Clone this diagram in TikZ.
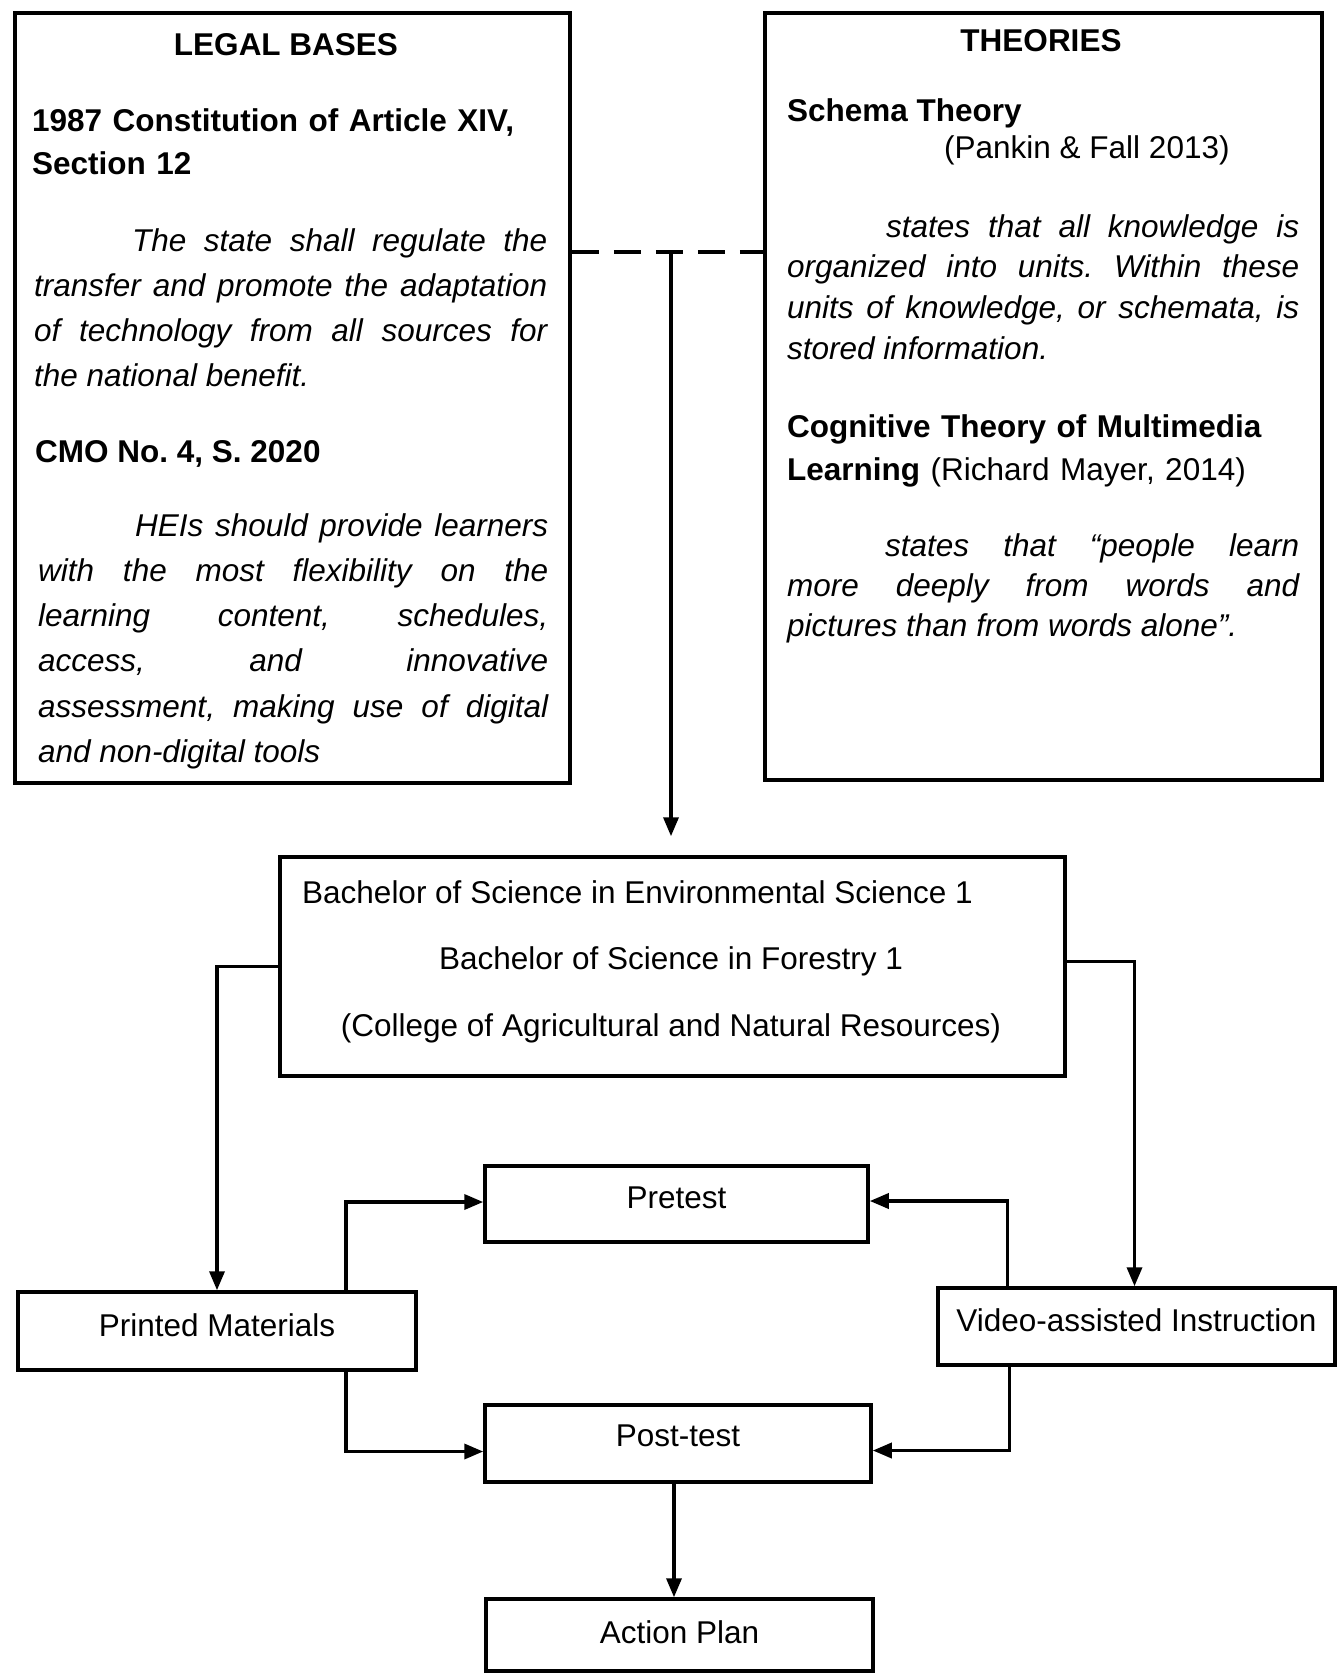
\documentclass[tikz,border=0pt]{standalone}
\usepackage{fontspec}
\setmainfont{Liberation Sans}
\usetikzlibrary{arrows.meta}
\frenchspacing
\tikzset{
  box/.style={draw, line width=3.5pt, inner sep=0pt},
  conn/.style={line width=3.5pt, -{Triangle[length=19pt,width=15pt]}},
  dashline/.style={line width=3.5pt, dash pattern=on 27pt off 15pt},
  plain/.style={inner sep=0pt, font=\fontsize{31.5}{40}\selectfont},
  head/.style={inner sep=0pt, font=\fontsize{31.5}{43}\selectfont\bfseries},
  para/.style={inner sep=0pt, align=justify, font=\fontsize{31.5}{#1}\selectfont\itshape},
  lbl/.style={box, font=\fontsize{31.5}{40}\selectfont, text depth=12pt},
}
\begin{document}
\begin{tikzpicture}[x=1pt,y=-1pt]
\useasboundingbox (0,0) rectangle (1337,1674);

% ---- top boxes
\node[box, minimum width=555pt, minimum height=770pt] (legal) at (292.5,398) {};
\node[box, minimum width=557pt, minimum height=767pt] (theories) at (1043.5,396.5) {};

% legal bases text
\node[head, anchor=base] (lbt) at (286,55) {LEGAL BASES};
\node[head, anchor=base west, text width=520pt, align=left] (lh1) at (32,131) {1987 Constitution of Article XIV,\\Section 12};
\node[para=45.3, anchor=base west, text width=513pt] (lp1) at (34,251) {\frenchspacing\tolerance=10000\hyphenpenalty=10000\hspace*{98pt}The state shall regulate the\linebreak transfer and promote the adaptation\linebreak of technology from all sources for\linebreak the national benefit.};
\node[head, anchor=base west] (lh2) at (35,462) {\frenchspacing CMO No. 4, S. 2020};
\node[para=45.3, anchor=base west, text width=510pt] (lp2) at (38,536) {\frenchspacing\tolerance=10000\hyphenpenalty=10000\hspace*{97pt}HEIs should provide learners\linebreak with the most flexibility on the\linebreak learning content, schedules,\linebreak access, and innovative\linebreak assessment, making use of digital\linebreak and non-digital tools};

% theories text
\node[head, anchor=base] (tht) at (1041,51) {THEORIES};
\node[head, anchor=base west] (th1) at (787,121) {Schema Theory};
\node[plain, anchor=base west] (th1r) at (944,158) {(Pankin \& Fall 2013)};
\node[para=40.7, anchor=base west, text width=512pt] (tp1) at (787,237) {\frenchspacing\tolerance=10000\hyphenpenalty=10000\hspace*{99pt}states that all knowledge is\linebreak organized into units. Within these\linebreak units of knowledge, or schemata, is\linebreak stored information.};
\node[head, anchor=base west, text width=540pt, align=left] (th2) at (787,437) {Cognitive Theory of Multimedia\\Learning \mdseries(Richard Mayer, 2014)};
\node[para=40, anchor=base west, text width=512pt] (tp2) at (787,556) {\frenchspacing\tolerance=10000\hyphenpenalty=10000\hspace*{98pt}states that “people learn\linebreak more deeply from words and\linebreak pictures than from words alone”.};

% ---- dashed link and main arrow
\coordinate (j) at (671,252);
\draw[dashline] (legal.east |- j) -- (theories.west |- j);

% ---- centre box
\node[box, minimum width=785pt, minimum height=219pt] (center) at (672.5,966.5) {};
\node[plain, anchor=base west] (c1) at (302,903) {Bachelor of Science in Environmental Science 1};
\node[plain, anchor=base] (c2) at (671,969) {Bachelor of Science in Forestry 1};
\node[plain, anchor=base] (c3) at (671,1036) {(College of Agricultural and Natural Resources)};

\draw[conn, shorten >=19pt] (j) -- (j |- center.north);

% ---- lower boxes
\node[lbl, minimum width=383pt, minimum height=76pt] (pretest) at (676.5,1204) {Pretest};
\node[lbl, minimum width=398pt, minimum height=78pt] (printed) at (217,1331) {Printed Materials};
\node[lbl, minimum width=397pt, minimum height=77pt] (video) at (1136.5,1326.5) {Video-assisted Instruction};
\node[lbl, minimum width=386pt, minimum height=77pt, text depth=15pt] (posttest) at (678,1443.5) {Post-test};
\node[lbl, minimum width=387pt, minimum height=72pt, text depth=6pt] (action) at (679.5,1635) {Action Plan};

% ---- connectors
\draw[conn] (center.west) -| (printed.north);
\draw[conn] ([yshift=5pt]center.east) -| ([xshift=-2pt]video.north);
\draw[conn] ([xshift=129pt]printed.north) |- ([yshift=2pt]pretest.west);
\draw[conn] ([xshift=129pt]printed.south) |- ([yshift=-8pt]posttest.west);
\draw[conn] ([xshift=-129pt]video.north) |- ([yshift=3pt]pretest.east);
\draw[conn] ([xshift=-127pt]video.south) |- ([yshift=-7pt]posttest.east);
\draw[conn] ([xshift=-4pt]posttest.south) -- ([xshift=-4pt]posttest.south |- action.north);
\end{tikzpicture}
\end{document}
